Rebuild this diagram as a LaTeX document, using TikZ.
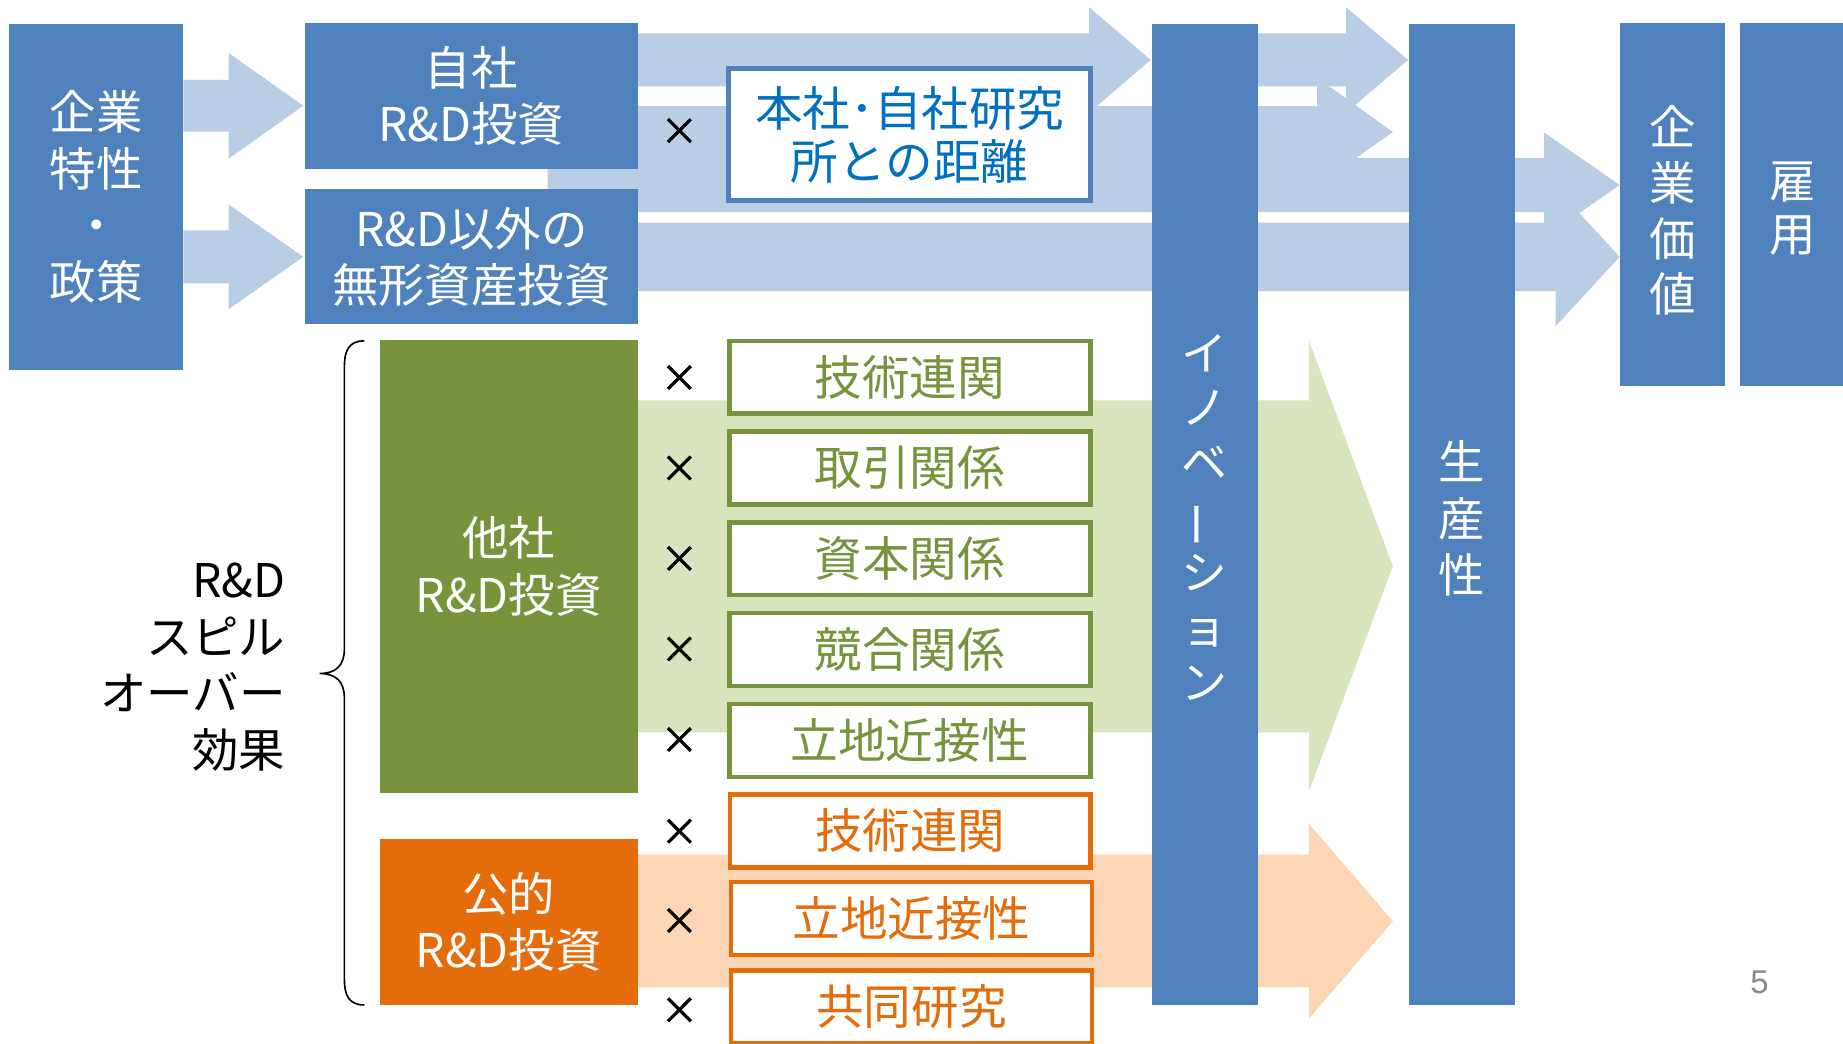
\documentclass[tikz,border=0pt]{standalone}
\usepackage{fontspec}
\setmainfont{Noto Sans CJK JP}
\newfontfamily\pnfont{Liberation Sans}
\newfontfamily\crossfont[FakeBold=1.5]{Noto Sans CJK JP}
\definecolor{cBlue}{HTML}{4F81BD}
\definecolor{cLight}{HTML}{B9CDE5}
\definecolor{cGreen}{HTML}{77933C}
\definecolor{cLGreen}{HTML}{D7E4BD}
\definecolor{cOrange}{HTML}{E46C0A}
\definecolor{cLOrange}{HTML}{FCD5B5}
\definecolor{cText}{HTML}{0070C0}
\definecolor{cPn}{HTML}{898989}
\newcommand{\fbig}{\fontsize{39.5}{48}\selectfont}
\newcommand{\frel}{\fontsize{40.5}{45}\selectfont}
\newcommand{\fcross}{\crossfont\fontsize{32}{32}\selectfont}
% color, x0, head base, tip x, shaft top, shaft bottom, head top, head bottom, tip y
\newcommand{\blockarr}[9]{\fill[#1] (#2,#5) -- (#3,#5) -- (#3,#7) -- (#4,#9) -- (#3,#8) -- (#3,#6) -- (#2,#6) -- cycle;}
\tikzset{
  box/.style={inner sep=0pt, outer sep=0pt, align=center, text=white, font=\fbig},
  bluebox/.style={box, fill=cBlue},
  greenbox/.style={box, fill=cGreen},
  orangebox/.style={box, fill=cOrange},
  relbox/.style={inner sep=0pt, outer sep=0pt, fill=white, line width=4pt, align=center,
     minimum width=307pt, minimum height=62pt, font=\frel},
  grel/.style={relbox, draw=cGreen, text=cGreen},
  orel/.style={relbox, draw=cOrange, text=cOrange},
  cross/.style={inner sep=0pt, font=\fcross},
}
\begin{document}
\begin{tikzpicture}[x=1pt,y=-1pt]
\useasboundingbox (0,0) rectangle (1568,888);
\fill[white] (0,0) rectangle (1568,888);
% light arrows
\blockarr{cLight}{156}{194.5}{258}{68}{112}{45}{135}{90}
\blockarr{cLight}{156}{194.5}{258}{196}{241}{174}{263}{218.5}
\blockarr{cLight}{542}{926.5}{979}{28.5}{73.5}{6}{96}{51}
\blockarr{cLight}{1070}{1145}{1198}{28.5}{73.5}{6}{96}{51}
\blockarr{cLight}{542}{1120.5}{1185}{90.2}{134.4}{66}{158}{112.3}
\blockarr{cLight}{466}{1313.6}{1378}{134.4}{180.4}{112.6}{202.2}{157.4}
\blockarr{cLight}{542}{1323.5}{1378}{189.5}{247.6}{159.5}{277.5}{218.5}
\blockarr{cLGreen}{542}{1113.7}{1185}{340.7}{623}{290}{673}{481.8}
\blockarr{cLOrange}{542}{1113.7}{1185}{727}{840}{701}{866.5}{783.7}
% main boxes
\node[bluebox, minimum width=148pt, minimum height=295pt] (firm) at (82,167.5) {企業\\特性\\・\\政策};
\node[bluebox, minimum width=283pt, minimum height=124pt] (own) at (401,81.5) {自社\\R\&D投資};
\node[bluebox, minimum width=283pt, minimum height=115pt] (intang) at (401,218.4) {R\&D以外の\\無形資産投資};
\node[relbox, draw=cBlue, text=cText, minimum width=308pt, minimum height=112pt] (dist) at (774,114.5) {本社･自社研究\\所との距離};
\node[greenbox, minimum width=219.4pt, minimum height=386pt] (other) at (432.7,482) {他社\\R\&D投資};
\node[orangebox, minimum width=219.4pt, minimum height=141pt] (public) at (432.7,784.5) {公的\\R\&D投資};
\node[bluebox, minimum width=90pt, minimum height=835pt] (innov) at (1025,437.5) {};
\node[box, font=\fontsize{39}{46.7}\selectfont] (innovt) at (1025,440) {イ\\ノ\\ベ\\\rotatebox[origin=c]{90}{ー}\\シ\\ョ\\ン};
\node[bluebox, minimum width=90pt, minimum height=835pt] (prod) at (1243.6,437.5) {};
\node[box, font=\fontsize{39.5}{48}\selectfont] (prodt) at (1243.6,441) {生\\産\\性};
\node[bluebox, minimum width=90pt, minimum height=308.4pt] (valbox) at (1423,173.8) {};
\node[box, font=\fontsize{39.5}{47.5}\selectfont] (val) at (1423,179) {企\\業\\価\\値};
\node[bluebox, minimum width=88pt, minimum height=308.4pt] (empbox) at (1524,173.8) {};
\node[box, font=\fontsize{39.5}{45}\selectfont] (emp) at (1525,177.5) {雇\\用};
% relation boxes
\node[grel] (g1) at (774,321) {技術連関};
\node[grel] (g2) at (774,398) {取引関係};
\node[grel] (g3) at (774,475.3) {資本関係};
\node[grel] (g4) at (774,552.6) {競合関係};
\node[grel] (g5) at (774,630) {立地近接性};
\node[orel] (o1) at (774.5,706.8) {技術連関};
\node[orel] (o2) at (775.5,781.5) {立地近接性};
\node[orel] (o3) at (775.5,856.5) {共同研究};
% crosses
\node[cross] (x0) at (578,112) {×};
\node[cross] (x1) at (578,322) {×};
\node[cross] (x2) at (578,399) {×};
\node[cross] (x3) at (578,476) {×};
\node[cross] (x4) at (578,553) {×};
\node[cross] (x5) at (578,630) {×};
\node[cross] (x6) at (578,708) {×};
\node[cross] (x7) at (578,784) {×};
\node[cross] (x8) at (578,860) {×};
% spillover label and brace
\node[font=\fbig, align=right, anchor=east, inner sep=0pt] (spill) at (243,567.5) {R\&D\\スピル\\オーバー\\効果};
\draw[line width=1.4pt] (310,290) .. controls (297,290) and (293,298) .. (293,312) -- (293,552)
  .. controls (293,566) and (286,573) .. (272,573)
  .. controls (286,573) and (293,580) .. (293,594) -- (293,833)
  .. controls (293,847) and (297,855) .. (310,855);
\node[font=\pnfont\fontsize{28}{28}\selectfont, text=cPn, inner sep=0pt] (pn) at (1497,836) {5};
\end{tikzpicture}
\end{document}
